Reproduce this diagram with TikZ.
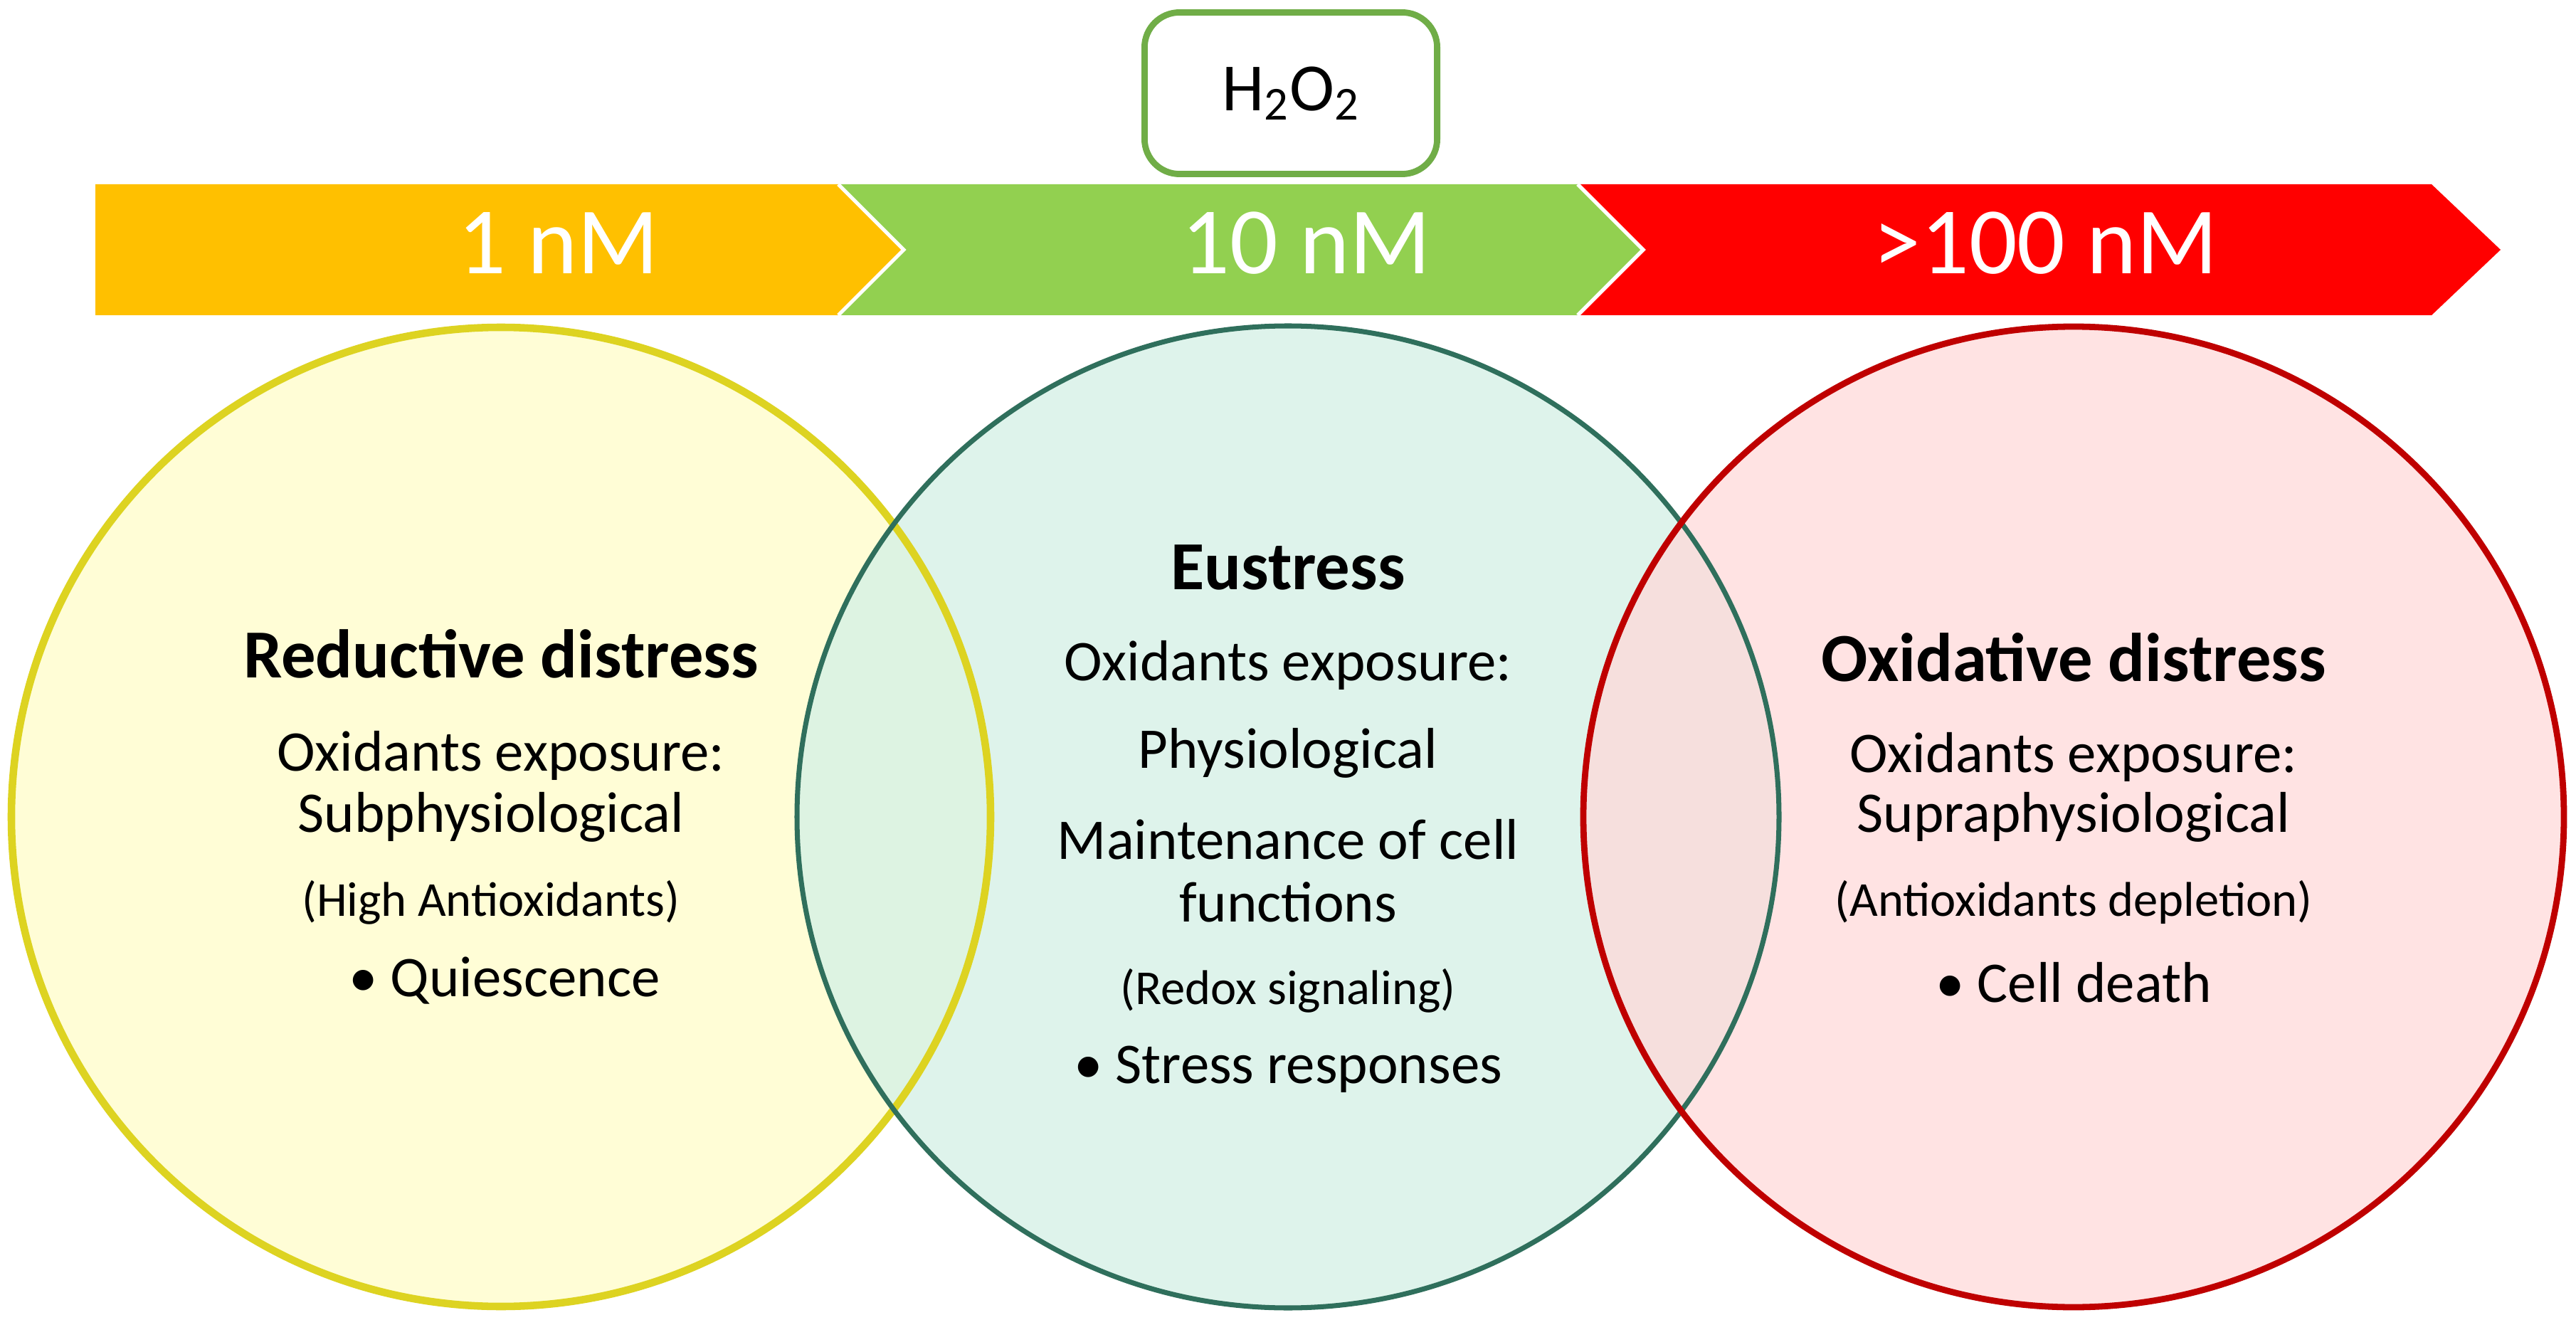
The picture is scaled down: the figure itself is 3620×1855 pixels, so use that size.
\documentclass[tikz,border=0pt]{standalone}
\usepackage{fontspec}
\setmainfont{Carlito}
\begin{document}
\begin{tikzpicture}[x=0.01cm,y=-0.01cm,
  big/.style={font=\fontsize{38}{44}\selectfont,text=white},
  hd/.style={font=\bfseries\fontsize{27.5}{32}\selectfont},
  bd/.style={font=\fontsize{23}{27}\selectfont},
  sm/.style={font=\fontsize{19.5}{23}\selectfont}]
\useasboundingbox (0,0) rectangle (3620,1855);
\definecolor{cy}{HTML}{FFC000}\definecolor{cg}{HTML}{92D050}\definecolor{cr}{HTML}{FF0000}
\definecolor{gfill}{HTML}{D6F0E6}\definecolor{gline}{HTML}{2F6F5C}
% arrows
\fill[cr] (2217,259) -- (3417,259) -- (3514,351) -- (3417,443) -- (2217,443) -- (2309,351) -- cycle;
\fill[cg] (1178,259) -- (2217,259) -- (2309,351) -- (2217,443) -- (1178,443) -- (1270,351) -- cycle;
\draw[white,line width=1.5pt] (2217,259) -- (2309,351) -- (2217,443);
\fill[cy] (134,259) -- (1178,259) -- (1270,351) -- (1178,443) -- (134,443) -- cycle;
\draw[white,line width=1.5pt] (1178,259) -- (1270,351) -- (1178,443);
\node[big] (a1) at (785,342) {1 nM};
\node[big] (a2) at (1836,342) {10 nM};
\node[big] (a3) at (2875,342) {>100 nM};
\node[draw={rgb,255:red,112;green,173;blue,71},line width=2.5pt,rounded corners=14pt,fill=white,
  minimum width=4.11cm,minimum height=2.27cm,
  font=\fontsize{27}{31}\selectfont] (h) at (1814,131) {H\textsubscript{2}O\textsubscript{2}};
% circles
\fill[yellow!20,opacity=0.8] (704,1148) circle (688);
\fill[gfill,opacity=0.8] (1810,1148) circle (690);
\fill[red!15,opacity=0.75] (2914,1148) circle (689);
\draw[yellow!85!black,line width=3pt] (704,1148) circle (688);
\draw[gline,line width=2pt] (1810,1148) circle (690);
\draw[red!75!black,line width=2.5pt] (2914,1148) circle (689);
% left texts
\node[hd] (l1) at (704,919) {Reductive distress};
\node[bd] (l2) at (704,1062) {Oxidants exposure:};
\node[bd] (l3) at (690,1148) {Subphysiological};
\node[sm] (l4) at (690,1268) {(High Antioxidants)};
\node[bd] (l5) at (709,1378) {\textbullet{} Quiescence};
% middle
\node[hd] (m1) at (1810,797) {Eustress};
\node[bd] (m2) at (1810,935) {Oxidants exposure:};
\node[bd] (m3) at (1810,1058) {Physiological};
\node[bd] (m4) at (1810,1180) {Maintenance of cell};
\node[bd] (m5) at (1810,1268) {functions};
\node[sm] (m6) at (1810,1392) {(Redox signaling)};
\node[bd] (m7) at (1810,1503) {\textbullet{} Stress responses};
% right
\node[hd] (r1) at (2914,924) {Oxidative distress};
\node[bd] (r2) at (2914,1064) {Oxidants exposure:};
\node[bd] (r3) at (2914,1148) {Supraphysiological};
\node[sm] (r4) at (2914,1268) {(Antioxidants depletion)};
\node[bd] (r5) at (2914,1381) {\textbullet{} Cell death};
\end{tikzpicture}
\end{document}
